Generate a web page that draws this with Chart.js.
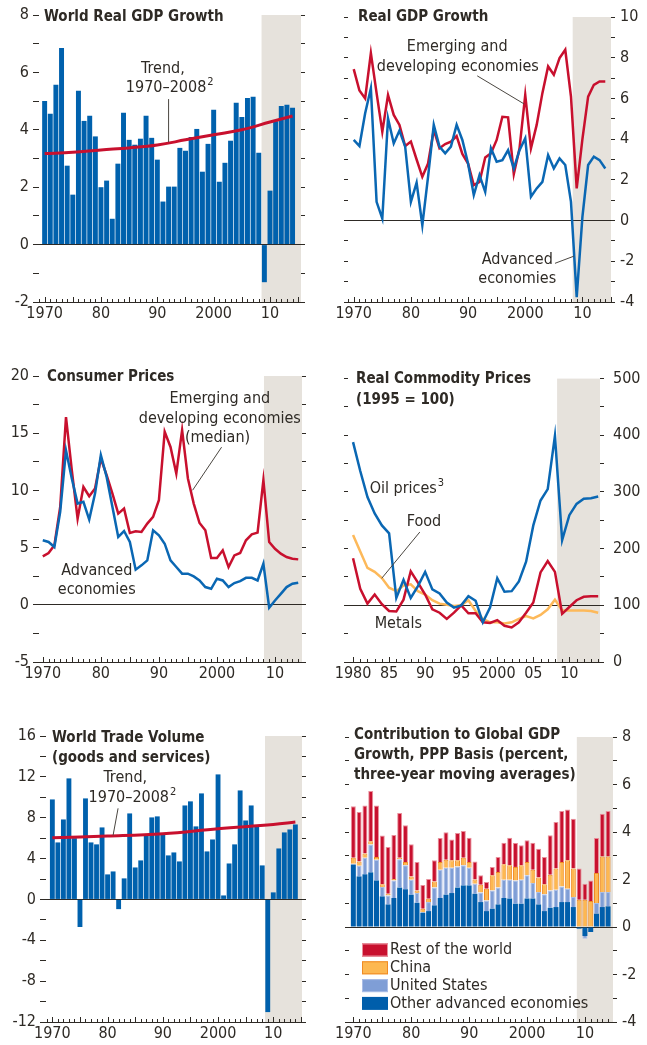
<!DOCTYPE html>
<html lang="en">
<head>
<meta charset="utf-8">
<title>World economy, long-term trends</title>
<script src="https://cdn.jsdelivr.net/npm/chart.js@4.4.1/dist/chart.umd.min.js"></script>
<style>
  html, body { margin: 0; padding: 0; background: #fff; }
  body { position: relative; width: 647px; height: 1045px; overflow: hidden; }
  canvas { position: absolute; }
</style>
</head>
<body>
<canvas id="worldGdpChart" width="323" height="325" style="left:0;top:0"></canvas>
<canvas id="realGdpChart" width="324" height="325" style="left:323px;top:0"></canvas>
<canvas id="pricesChart" width="323" height="325" style="left:0;top:360px"></canvas>
<canvas id="commodityChart" width="324" height="325" style="left:323px;top:360px"></canvas>
<canvas id="tradeChart" width="323" height="325" style="left:0;top:720px"></canvas>
<canvas id="contributionChart" width="324" height="325" style="left:323px;top:720px"></canvas>
<script>
// ---- data ----
const years = [
    1970, 1971, 1972, 1973, 1974, 1975, 1976, 1977, 1978, 1979,
    1980, 1981, 1982, 1983, 1984, 1985, 1986, 1987, 1988, 1989,
    1990, 1991, 1992, 1993, 1994, 1995, 1996, 1997, 1998, 1999,
    2000, 2001, 2002, 2003, 2004, 2005, 2006, 2007, 2008, 2009,
    2010, 2011, 2012, 2013, 2014
];
const commodityYears = [
    1980, 1981, 1982, 1983, 1984, 1985, 1986, 1987, 1988, 1989,
    1990, 1991, 1992, 1993, 1994, 1995, 1996, 1997, 1998, 1999,
    2000, 2001, 2002, 2003, 2004, 2005, 2006, 2007, 2008, 2009,
    2010, 2011, 2012, 2013, 2014
];
const decadeTicks = [1970, 1980, 1990, 2000, 2010];
const decadeLabels = ['1970', '80', '90', '2000', '10'];
const commodityTicks = [1980, 1985, 1990, 1995, 2000, 2005, 2010];
const commodityTickLabels = ['1980', '85', '90', '95', '2000', '05', '10'];

const worldGdp = [
    5.0, 4.56, 5.57, 6.85, 2.75, 1.74, 5.36, 4.31, 4.49, 3.77,
    2.0, 2.23, 0.9, 2.82, 4.59, 3.65, 3.48, 3.69, 4.49, 3.72,
    2.96, 1.5, 2.02, 2.02, 3.37, 3.27, 3.75, 4.03, 2.54, 3.51,
    4.7, 2.19, 2.85, 3.62, 4.94, 4.45, 5.11, 5.15, 3.2, -1.31,
    1.88, 4.3, 4.83, 4.87, 4.77
];
const gdpTrendYears = [1970, 1975, 1980, 1985, 1990, 1995, 2000, 2005, 2010, 2014];
const gdpTrend = [3.17, 3.22, 3.30, 3.37, 3.47, 3.65, 3.83, 4.0, 4.27, 4.48];

const emergingGdp = [
    7.44, 6.39, 6.0, 8.23, 6.26, 4.37, 6.17, 5.19, 4.7, 3.66,
    3.88, 3.0, 2.15, 2.8, 4.45, 3.55, 3.76, 3.88, 4.15, 3.27,
    2.8, 1.74, 1.9, 3.1, 3.3, 3.96, 5.1, 5.07, 2.28, 3.55,
    6.17, 3.55, 4.7, 6.26, 7.57, 7.16, 7.98, 8.39, 6.09, 1.58,
    4.0, 6.09, 6.67, 6.83, 6.83
];
const advancedGdp = [
    3.96, 3.66, 5.27, 6.5, 0.92, 0.1, 5.02, 3.79, 4.42, 3.63,
    0.92, 1.86, -0.23, 2.15, 4.7, 3.63, 3.3, 3.63, 4.7, 3.96,
    2.8, 1.25, 2.23, 1.41, 3.55, 2.89, 2.97, 3.46, 2.56, 3.46,
    4.04, 1.17, 1.58, 1.9, 3.22, 2.56, 3.05, 2.73, 0.92, -3.76,
    0.18, 2.73, 3.14, 2.97, 2.56
];

const emergingCpi = [
    4.23, 4.53, 5.2, 8.55, 16.4, 11.77, 7.53, 10.3, 9.49, 10.16,
    12.79, 11.33, 9.72, 7.97, 8.41, 6.28, 6.42, 6.36, 7.1, 7.68,
    9.14, 15.12, 13.8, 11.47, 15.27, 11.04, 8.85, 7.15, 6.51, 4.09,
    4.09, 4.76, 3.3, 4.32, 4.53, 5.64, 6.16, 6.31, 10.9, 5.49,
    4.9, 4.47, 4.18, 4.03, 3.97
];
const advancedCpi = [
    5.64, 5.49, 5.05, 8.12, 13.5, 11.04, 8.85, 9.0, 7.45, 9.72,
    13.08, 11.18, 8.55, 5.93, 6.45, 5.49, 3.07, 3.45, 3.88, 6.51,
    6.07, 5.34, 3.88, 3.3, 2.72, 2.72, 2.48, 2.13, 1.55, 1.4,
    2.28, 2.13, 1.55, 1.9, 2.07, 2.36, 2.36, 2.13, 3.59, -0.26,
    0.38, 0.96, 1.55, 1.84, 1.93
];

const oilPrices = [
    388, 337, 291, 262, 241, 227, 113, 145, 113, 134,
    159, 128, 121, 105, 96, 100, 116, 108, 70, 96,
    148, 124, 125, 142, 177, 241, 285, 305, 399, 215,
    259, 279, 288, 289, 292
];
const foodPrices = [
    224, 195, 166, 159, 148, 131, 125, 135, 137, 125,
    119, 109, 103, 101, 99, 100, 109, 90, 76, 70,
    70, 68, 70, 76, 81, 77, 83, 93, 110, 91,
    91, 91, 91, 90, 87
];
const metalPrices = [
    183, 129, 103, 119, 102, 90, 89, 110, 160, 140,
    119, 93, 87, 76, 87, 100, 86, 86, 70, 69,
    74, 64, 61, 70, 87, 105, 158, 178, 159, 85,
    97, 109, 115, 116, 116
];

const worldTrade = [
    9.79, 5.58, 7.83, 11.85, 6.0, -2.7, 9.89, 5.58, 5.39, 7.05,
    2.45, 2.74, -0.95, 2.06, 8.42, 3.13, 3.82, 6.3, 8.03, 8.13,
    6.36, 4.31, 4.6, 3.72, 9.2, 9.6, 7.15, 10.38, 4.7, 5.87,
    12.24, 0.39, 3.52, 5.39, 10.67, 7.73, 9.2, 7.1, 3.33, -11.03,
    0.69, 4.99, 6.56, 6.85, 7.34
];
const tradeTrendYears = [1970, 1980, 1990, 2000, 2010, 2014];
const tradeTrend = [6.04, 6.2, 6.43, 6.92, 7.34, 7.57];

const otherAdvanced = [
    2.63, 2.13, 2.22, 2.30, 1.96, 1.29, 0.95, 1.22, 1.66, 1.59,
    1.36, 1.02, 0.60, 0.67, 0.91, 1.22, 1.36, 1.43, 1.66, 1.75,
    1.75, 1.40, 1.05, 0.67, 0.77, 0.95, 1.22, 1.20, 0.98, 0.98,
    1.20, 1.20, 0.95, 0.67, 0.81, 0.84, 1.05, 1.05, 0.84, -0.07,
    -0.38, -0.21, 0.56, 0.84, 0.87
];
const unitedStates = [
    0.03, 0.45, 0.70, 1.17, 0.87, 0.39, 0.38, 0.74, 1.19, 1.01,
    0.63, 0.41, 0.03, 0.38, 0.75, 1.19, 1.14, 1.07, 0.89, 0.85,
    0.75, 0.42, 0.40, 0.45, 0.77, 0.71, 0.77, 0.79, 0.98, 1.01,
    0.98, 0.65, 0.52, 0.71, 0.73, 0.73, 0.66, 0.56, 0.42, 0,
    -0.11, 0, 0.45, 0.63, 0.60
];
const china = [
    0.26, 0.18, 0.17, 0.14, 0.12, 0.12, 0.07, 0.06, 0.07, 0.14,
    0.14, 0.11, 0.14, 0.14, 0.26, 0.33, 0.33, 0.31, 0.26, 0.32,
    0.24, 0.18, 0.33, 0.49, 0.64, 0.66, 0.65, 0.61, 0.57, 0.61,
    0.56, 0.56, 0.61, 0.42, 0.66, 0.89, 1.03, 1.20, 1.20, 1.15,
    1.15, 1.09, 1.26, 1.50, 1.50
];
const restOfWorld = [
    2.16, 2.08, 2.03, 2.12, 2.17, 2.05, 1.97, 1.85, 1.88, 1.54,
    1.35, 1.20, 1.00, 0.83, 0.89, 1.01, 1.16, 0.87, 1.15, 1.12,
    1.02, 0.76, 0.40, 0.28, 0.35, 0.63, 0.91, 1.16, 1.01, 0.84,
    0.91, 1.14, 1.22, 1.15, 1.66, 1.96, 2.14, 2.14, 2.10, 1.31,
    0.67, 0.87, 1.48, 1.80, 1.91
];

// ---- style ----
const FONT = "'DejaVu Sans Condensed', 'Liberation Sans Narrow', sans-serif";
const INK = '#2e2a25';
const SHADE = '#e6e2dc';
const RED = '#c8102e';
const BLUE_BAR = '#0061ad';
const BLUE_LINE = '#0a67b3';
const TICK_SIZE = 16;
const NOTE_SIZE = 16;

function points(xs, ys) {
    return xs.map((x, i) => ({ x, y: ys[i] }));
}

function isMultiple(v, step) {
    return Math.abs(v / step - Math.round(v / step)) < 1e-6;
}

/**
 * Shading, year ticks, titles, notes and legend
 */
const decorPlugin = {
    id: 'decor',
    beforeDraw(chart, args, opts) {
        const { ctx, chartArea: a, scales: { x } } = chart;
        const x0 = x.getPixelForValue(opts.shadeFrom);
        ctx.save();
        ctx.fillStyle = SHADE;
        ctx.fillRect(x0, a.top, a.right - x0, a.bottom - a.top);
        ctx.restore();
    },
    afterDraw(chart, args, opts) {
        const { ctx, chartArea: a, scales: { x, y } } = chart;
        ctx.save();
        ctx.strokeStyle = INK;
        ctx.lineWidth = 1;

        // ticks rising from the baseline
        x.ticks.forEach(t => {
            if (t.value < x.min || t.value > x.max) return;
            const px = Math.round(x.getPixelForValue(t.value)) + 0.5;
            const len = t.value % 5 === 0 ? 5 : 3;
            ctx.beginPath();
            ctx.moveTo(px, a.bottom);
            ctx.lineTo(px, a.bottom - len);
            ctx.stroke();
        });

        // leader lines
        ctx.strokeStyle = '#4a4640';
        (opts.leaders || []).forEach(([x1, y1, x2, y2]) => {
            ctx.beginPath();
            ctx.moveTo(x.getPixelForValue(x1), y.getPixelForValue(y1));
            ctx.lineTo(x.getPixelForValue(x2), y.getPixelForValue(y2));
            ctx.stroke();
        });

        ctx.fillStyle = INK;
        ctx.textBaseline = 'middle';
        ctx.textAlign = 'left';

        // notes
        (opts.notes || []).forEach(n => {
            ctx.font = `${NOTE_SIZE}px ${FONT}`;
            const w = ctx.measureText(n.text).width;
            ctx.font = `11px ${FONT}`;
            const sw = n.sup ? ctx.measureText(n.sup).width + 1 : 0;
            let px = x.getPixelForValue(n.x);
            if (n.align !== 'left') px -= (w + sw) / 2;
            const py = y.getPixelForValue(n.y);
            ctx.font = `${NOTE_SIZE}px ${FONT}`;
            ctx.fillText(n.text, px, py);
            if (n.sup) {
                ctx.font = `11px ${FONT}`;
                ctx.fillText(n.sup, px + w + 1, py - 6);
            }
        });

        // title
        ctx.font = `bold 15px ${FONT}`;
        (opts.title || []).forEach((line, i) => {
            ctx.fillText(line, a.left + opts.titleX, a.top + opts.titleY + i * opts.titleGap);
        });

        // legend (top of stack first)
        if (opts.legend) {
            const sets = chart.data.datasets.slice().reverse();
            ctx.font = `${NOTE_SIZE}px ${FONT}`;
            sets.forEach((ds, i) => {
                const bx = a.left + 13;
                const by = a.top + 213 + i * 17.8;
                ctx.fillStyle = ds.backgroundColor;
                ctx.fillRect(bx, by - 6.5, 26, 13);
                if (ds.borderWidth) {
                    ctx.strokeStyle = ds.borderColor;
                    ctx.strokeRect(bx + 0.5, by - 6, 25, 12);
                }
                ctx.fillStyle = INK;
                ctx.fillText(ds.label, bx + 28, by);
            });
        }
        ctx.restore();
    }
};

/**
 * Build the six panels
 */
class PanelService {
    constructor() {
        this.charts = {};
    }

    xAxis(min, max, tickValues, tickLabels) {
        return {
            type: 'linear',
            min,
            max,
            offset: false,
            stacked: true,
            afterFit: (s) => { s.height = 23; },
            border: { display: true, color: INK, width: 1 },
            grid: { display: true, drawOnChartArea: false, drawTicks: false },
            ticks: {
                stepSize: 1,
                autoSkip: false,
                maxRotation: 0,
                includeBounds: false,
                padding: 2,
                color: INK,
                font: { family: FONT, size: TICK_SIZE },
                callback: (v) => {
                    const i = tickValues.indexOf(v);
                    return i >= 0 ? tickLabels[i] : '';
                }
            }
        };
    }

    yAxis(a) {
        return {
            type: 'linear',
            position: a.position,
            min: a.min,
            max: a.max,
            stacked: !!a.stacked,
            afterFit: (s) => { s.width = a.width; },
            border: { display: false },
            grid: {
                drawOnChartArea: a.refLine !== undefined,
                drawTicks: true,
                tickLength: a.tickLength,
                tickColor: INK,
                lineWidth: 1,
                color: (c) => (c.tick && c.tick.value === a.refLine ? INK : 'rgba(0,0,0,0)')
            },
            ticks: {
                stepSize: a.step,
                autoSkip: false,
                padding: a.padding || 5,
                color: INK,
                font: { family: FONT, size: TICK_SIZE },
                callback: (v) => (a.labels && isMultiple(v, a.labelStep) ? v : '')
            }
        };
    }

    createPanel(canvasId, p) {
        const ctx = document.getElementById(canvasId);
        if (!ctx) return null;

        this.charts[canvasId] = new Chart(ctx, {
            type: 'bar',
            data: { datasets: p.datasets },
            options: {
                responsive: false,
                animation: false,
                devicePixelRatio: 1,
                layout: { padding: { top: p.top, left: 0, right: 0, bottom: 0 } },
                plugins: {
                    legend: { display: false },
                    tooltip: { enabled: false },
                    title: { display: false },
                    decor: p.decor
                },
                scales: {
                    x: this.xAxis(p.xMin, p.xMax, p.tickValues, p.tickLabels),
                    y: this.yAxis({ ...p.y, position: 'left', labels: p.labelSide === 'left',
                        width: p.leftWidth, tickLength: p.leftTick, padding: p.leftPad, refLine: p.refLine }),
                    y2: this.yAxis({ ...p.y, position: 'right', labels: p.labelSide === 'right',
                        width: p.rightWidth, tickLength: p.rightTick, padding: p.rightPad })
                }
            },
            plugins: [decorPlugin]
        });
        return this.charts[canvasId];
    }
}

const panels = new PanelService();

const lineSet = (data, color, width) => ({
    type: 'line', data, borderColor: color, borderWidth: width,
    pointRadius: 0, tension: 0, fill: false
});
const barSet = (data, color) => ({
    type: 'bar', data, backgroundColor: color, borderWidth: 0,
    barPercentage: 0.88, categoryPercentage: 1
});

// World Real GDP Growth
panels.createPanel('worldGdpChart', {
    top: 15, leftWidth: 39, rightWidth: 22, leftTick: 6, rightTick: 4, leftPad: 4,
    xMin: 1969, xMax: 2015.5, tickValues: decadeTicks, tickLabels: decadeLabels,
    y: { min: -2, max: 8, step: 1, labelStep: 2 }, labelSide: 'left', refLine: 0,
    datasets: [
        { ...lineSet(points(gdpTrendYears, gdpTrend), RED, 3), tension: 0.4 },
        barSet(points(years, worldGdp), BLUE_BAR)
    ],
    decor: {
        shadeFrom: 2008.5,
        title: ['World Real GDP Growth'], titleX: 5, titleY: 2, titleGap: 21,
        notes: [
            { text: 'Trend,', x: 1991.0, y: 6.12 },
            { text: '1970–2008', sup: '2', x: 1992.2, y: 5.46 }
        ],
        leaders: [[1992.0, 5.07, 1992.0, 3.57]]
    }
});

// Real GDP Growth
panels.createPanel('realGdpChart', {
    top: 17, leftWidth: 25, rightWidth: 36, leftTick: 4, rightTick: 4, rightPad: 5,
    xMin: 1969, xMax: 2015, tickValues: decadeTicks, tickLabels: decadeLabels,
    y: { min: -4, max: 10, step: 1, labelStep: 2 }, labelSide: 'right', refLine: 0,
    datasets: [
        lineSet(points(years, advancedGdp), BLUE_LINE, 2.5),
        lineSet(points(years, emergingGdp), RED, 2.5)
    ],
    decor: {
        shadeFrom: 2008.3,
        title: ['Real GDP Growth'], titleX: 10, titleY: 0, titleGap: 21,
        notes: [
            { text: 'Emerging and', x: 1988.1, y: 8.54 },
            { text: 'developing economies', x: 1988.2, y: 7.55 },
            { text: 'Advanced', x: 1998.6, y: -1.95 },
            { text: 'economies', x: 1998.6, y: -2.84 }
        ],
        leaders: [[1991.6, 7.11, 1999.8, 5.73], [2005.2, -2.10, 2008.5, -1.75]]
    }
});

// Consumer Prices
panels.createPanel('pricesChart', {
    top: 16, leftWidth: 39, rightWidth: 21, leftTick: 6, rightTick: 4, leftPad: 4,
    xMin: 1969.35, xMax: 2014.65, tickValues: decadeTicks, tickLabels: decadeLabels,
    y: { min: -5, max: 20, step: 2.5, labelStep: 5 }, labelSide: 'left', refLine: 0,
    datasets: [
        lineSet(points(years, advancedCpi), BLUE_LINE, 2.5),
        lineSet(points(years, emergingCpi), RED, 2.5)
    ],
    decor: {
        shadeFrom: 2008.1,
        title: ['Consumer Prices'], titleX: 8, titleY: 1, titleGap: 21,
        notes: [
            { text: 'Emerging and', x: 2000.5, y: 17.98 },
            { text: 'developing economies', x: 2000.5, y: 16.23 },
            { text: '(median)', x: 2000.1, y: 14.56 },
            { text: 'Advanced', x: 1979.3, y: 3.0 },
            { text: 'economies', x: 1979.3, y: 1.34 }
        ],
        leaders: [[2000.8, 13.78, 1995.8, 10.01]]
    }
});

// Real Commodity Prices
panels.createPanel('commodityChart', {
    top: 15, leftWidth: 25, rightWidth: 47, leftTick: 4, rightTick: 4, rightPad: 9,
    xMin: 1979.3, xMax: 2014.25, tickValues: commodityTicks, tickLabels: commodityTickLabels,
    y: { min: 0, max: 500, step: 50, labelStep: 100 }, labelSide: 'right', refLine: 100,
    datasets: [
        lineSet(points(commodityYears, oilPrices), BLUE_LINE, 2.5),
        lineSet(points(commodityYears, metalPrices), RED, 2.5),
        lineSet(points(commodityYears, foodPrices), '#fdb95a', 2.5)
    ],
    decor: {
        shadeFrom: 2008.3,
        title: ['Real Commodity Prices', '(1995 = 100)'], titleX: 8, titleY: 1, titleGap: 21,
        notes: [
            { text: 'Oil prices', sup: '3', x: 1982.3, y: 304.7, align: 'left' },
            { text: 'Food', x: 1987.45, y: 247, align: 'left' },
            { text: 'Metals', x: 1983.0, y: 67.5, align: 'left' }
        ],
        leaders: [[1989.26, 229.3, 1983.98, 147.7]]
    }
});

// World Trade Volume
panels.createPanel('tradeChart', {
    top: 16, leftWidth: 46, rightWidth: 21, leftTick: 6, rightTick: 4, leftPad: 4,
    xMin: 1968.85, xMax: 2015.2, tickValues: decadeTicks, tickLabels: decadeLabels,
    y: { min: -12, max: 16, step: 2, labelStep: 4 }, labelSide: 'left', refLine: 0,
    datasets: [
        { ...lineSet(points(tradeTrendYears, tradeTrend), RED, 3), tension: 0.4 },
        barSet(points(years, worldTrade), BLUE_BAR)
    ],
    decor: {
        shadeFrom: 2008.5,
        title: ['World Trade Volume', '(goods and services)'], titleX: 6, titleY: 2, titleGap: 20,
        notes: [
            { text: 'Trend,', x: 1983.2, y: 11.86 },
            { text: '1970–2008', sup: '2', x: 1984.5, y: 9.9 }
        ],
        leaders: [[1981.9, 8.92, 1981.0, 6.28]]
    }
});

// Contribution to Global GDP Growth
const stackSet = (label, data, color, border) => ({
    type: 'bar', label, data: points(years, data), backgroundColor: color,
    borderColor: border || color, borderWidth: border ? 1 : 0,
    barPercentage: 0.86, categoryPercentage: 1, stack: 'world'
});
panels.createPanel('contributionChart', {
    top: 17, leftWidth: 26, rightWidth: 34, leftTick: 4, rightTick: 4, rightPad: 5,
    xMin: 1969.25, xMax: 2014.85, tickValues: decadeTicks, tickLabels: decadeLabels,
    y: { min: -4, max: 8, step: 1, labelStep: 2, stacked: true }, labelSide: 'right', refLine: 0,
    datasets: [
        stackSet('Other advanced economies', otherAdvanced, '#005eab'),
        stackSet('United States', unitedStates, '#7f9ed6', '#aabde6'),
        stackSet('China', china, '#fdb851', '#f08a24'),
        stackSet('Rest of the world', restOfWorld, '#c8102e', '#e9909c')
    ],
    decor: {
        shadeFrom: 2008.6,
        title: ['Contribution to Global GDP', 'Growth, PPP Basis (percent,', 'three-year moving averages)'],
        titleX: 5, titleY: -2, titleGap: 20,
        legend: true
    }
});
</script>
</body>
</html>
